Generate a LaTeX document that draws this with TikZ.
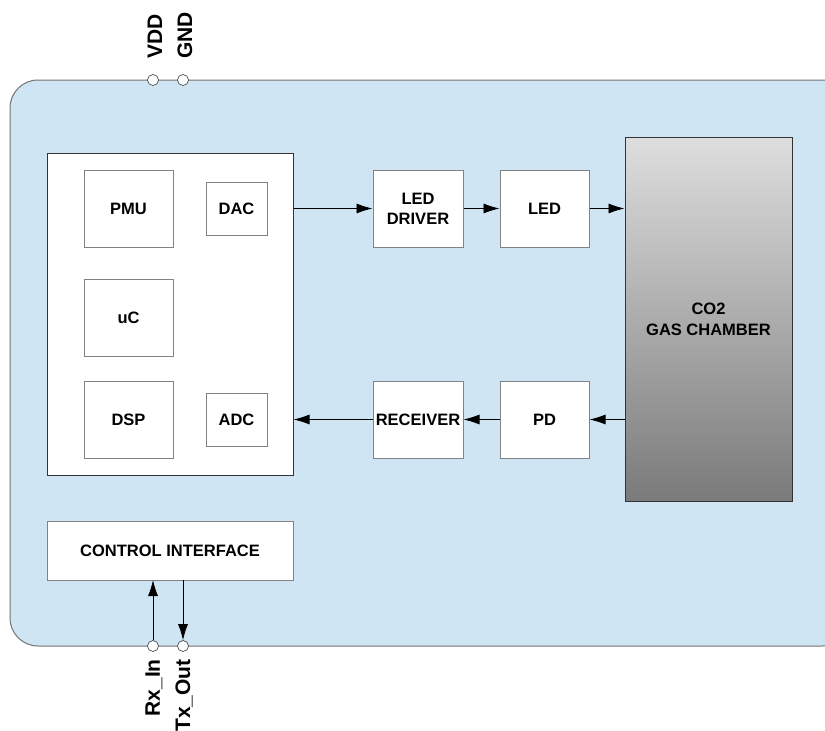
\documentclass[tikz,border=0pt]{standalone}
\usepackage{fontspec}
\setmainfont{Liberation Sans}
\usetikzlibrary{arrows.meta}
\definecolor{bgblue}{RGB}{207,229,243}
\definecolor{edgegray}{RGB}{130,130,130}
\tikzset{
  blk/.style={draw=edgegray, fill=white, line width=1pt, minimum width=#1, inner sep=0pt, align=center, font=\bfseries\fontsize{16.5}{20}\selectfont},
  blk/.default=89pt,
  arr/.style={-{Latex[length=16pt,width=10pt]}, line width=0.8pt, draw=black},
  pinc/.style={circle, draw=black!70, fill=white, minimum size=11pt, inner sep=0pt, line width=0.7pt},
  pinlbl/.style={font=\bfseries\fontsize{21}{22}\selectfont, rotate=90, inner sep=0pt}
}
\begin{document}
\begin{tikzpicture}[x=1pt,y=-1pt]
\useasboundingbox (0,0) rectangle (825,731);
\begin{scope}
\clip (0,0) rectangle (825,731);
\draw[fill=bgblue, draw=black!55, line width=1pt, rounded corners=28pt] (10,80) rectangle (850,646);
\end{scope}
% main MCU block
\node[draw=black!80, fill=white, line width=1pt, minimum width=246pt, minimum height=322pt, inner sep=0pt] (mcu) at (170,314) {};
\node[blk, minimum height=77pt] (pmu) at (128.5,208.5) {PMU};
\node[blk=61pt, minimum height=53pt] (dac) at (236.5,208.5) {DAC};
\node[blk, minimum height=77pt] (uc) at (128.5,317.5) {uC};
\node[blk, minimum height=77pt] (dsp) at (128.5,419.5) {DSP};
\node[blk=61pt, minimum height=53pt] (adc) at (236.5,419.5) {ADC};
% signal chain
\node[blk=90pt, minimum height=77pt] (drv) at (418,208.5) {LED\\DRIVER};
\node[blk, minimum height=77pt] (led) at (544.5,208.5) {LED};
\node[blk=90pt, minimum height=77pt] (rcv) at (418,419.5) {RECEIVER};
\node[blk, minimum height=77pt] (pd) at (544.5,419.5) {PD};
\node[draw=black!80, line width=1pt, top color=black!13, bottom color=black!52, minimum width=167pt, minimum height=364pt, inner sep=0pt, align=center, font=\bfseries\fontsize{16.5}{21}\selectfont] (co2) at (708.5,319) {CO2\\GAS CHAMBER};
\node[blk=246pt, minimum height=59pt] (ci) at (170,550.5) {CONTROL INTERFACE};
% arrows
\draw[arr] (mcu.east |- drv) -- (drv.west);
\draw[arr] (drv) -- (led);
\draw[arr] (led.east) -- (co2.west |- led);
\draw[arr] (co2.west |- pd) -- (pd.east);
\draw[arr] (pd) -- (rcv);
\draw[arr] (rcv.west) -- (mcu.east |- rcv);
% pins
\coordinate (ciin) at (153,580);
\coordinate (ciout) at (183,580);
\node[pinc] (rxin) at (153,646) {};
\node[pinc] (txout) at (183,646) {};
\draw[arr] (rxin.north) -- (ciin);
\draw[arr] (ciout) -- (txout.north);
\node[pinc] (vdd) at (153,80) {};
\node[pinc] (gnd) at (183,80) {};
\node[pinlbl, anchor=west] (vddl) at (155,59) {VDD};
\node[pinlbl, anchor=west] (gndl) at (185,59) {GND};
\begin{scope}
\clip (0,0) rectangle (825,731);
\node[pinlbl, anchor=east] (rxl) at (154,659) {Rx\_In};
\node[pinlbl, anchor=east] (txl) at (184,659) {Tx\_Out};
\end{scope}
\end{tikzpicture}
\end{document}
